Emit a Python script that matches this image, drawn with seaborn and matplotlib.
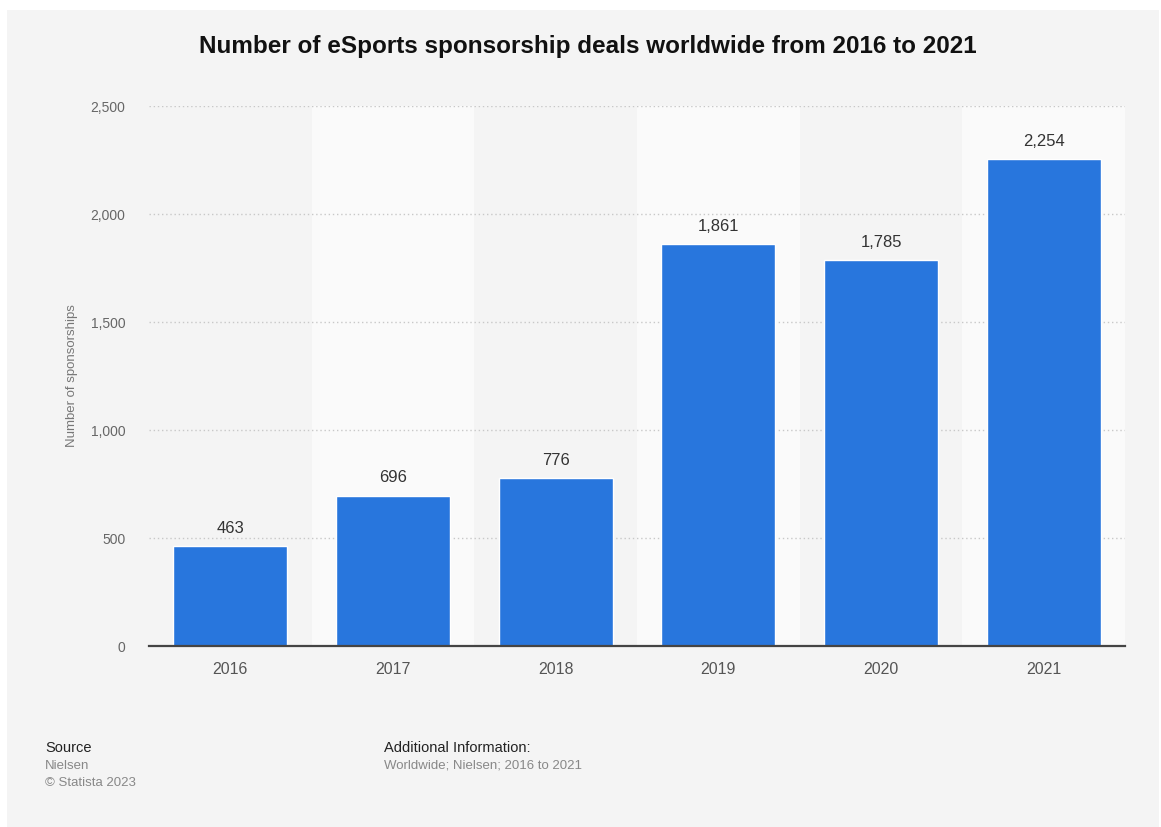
import matplotlib
matplotlib.use("Agg")
import matplotlib.pyplot as plt
import seaborn as sns
import pandas as pd
from matplotlib.patches import Rectangle

years = ["2016", "2017", "2018", "2019", "2020", "2021"]
deals = [463, 696, 776, 1861, 1785, 2254]
yticks = [0, 500, 1000, 1500, 2000, 2500]

sns.set_theme(style="white")
plt.rcParams['font.family'] = ['Liberation Sans', 'DejaVu Sans']

BG = "#f4f4f4"
fig = plt.figure(figsize=(11.61, 8.27), dpi=100, facecolor="white")
fig.patches.append(Rectangle((7/1161, 0), (1159-7)/1161, 1 - 10/827,
                             transform=fig.transFigure, facecolor=BG,
                             edgecolor="none", zorder=-10))
ax = fig.add_axes([149/1161, 1 - 646/827, (1125-149)/1161, (646-106)/827])
ax.set_facecolor(BG)

df = pd.DataFrame({"year": years, "deals": deals})
sns.barplot(data=df, x="year", y="deals", color="#2876dd", width=0.7,
            saturation=1, ax=ax, zorder=3)

for i in range(len(years)):
    if i % 2 == 1:
        ax.axvspan(i - 0.5, i + 0.5, color="#fafafa", zorder=0, lw=0)

ax.set_xlim(-0.5, len(years) - 0.5)
ax.set_ylim(0, 2500)
ax.set_yticks(yticks)
ax.set_yticklabels([f"{v:,}" for v in yticks])
ax.yaxis.grid(True, linestyle=(0, (1, 2)), color="#c8c8c8", linewidth=1, zorder=1)
ax.set_axisbelow(False)
for g in ax.get_ygridlines():
    g.set_zorder(1)

for s in ["top", "right", "left"]:
    ax.spines[s].set_visible(False)
ax.spines["bottom"].set_color("#444444")
ax.spines["bottom"].set_linewidth(1.6)
ax.spines["bottom"].set_zorder(5)

ax.tick_params(axis="y", length=0, pad=17, labelsize=10, labelcolor="#666666")
ax.tick_params(axis="x", length=0, pad=11.5, labelsize=11.5, labelcolor="#555555")
ax.set_xlabel("")
ax.set_ylabel("Number of sponsorships", fontsize=9.5, color="#777777", labelpad=9)

for i, v in enumerate(deals):
    ax.text(i, v + 48, f"{v:,}", ha="center", va="bottom", fontsize=12,
            color="#333333", zorder=6)

fig.text(588/1161, 1 - 47/827, "Number of eSports sponsorship deals worldwide from 2016 to 2021",
         ha="center", va="center", fontsize=17.5, fontweight="bold", color="#111111")

fig.text(45/1161, 1 - 748/827, "Source", ha="left", va="center", fontsize=10.5, color="#222222")
fig.text(45/1161, 1 - 766/827, "Nielsen", ha="left", va="center", fontsize=9.5, color="#888888")
fig.text(45/1161, 1 - 783/827, "© Statista 2023", ha="left", va="center", fontsize=9.5, color="#888888")
fig.text(384/1161, 1 - 748/827, "Additional Information:", ha="left", va="center", fontsize=10.5, color="#222222")
fig.text(384/1161, 1 - 766/827, "Worldwide; Nielsen; 2016 to 2021", ha="left", va="center", fontsize=9.5, color="#888888")

fig.savefig("out.png", dpi=100, facecolor="white")
